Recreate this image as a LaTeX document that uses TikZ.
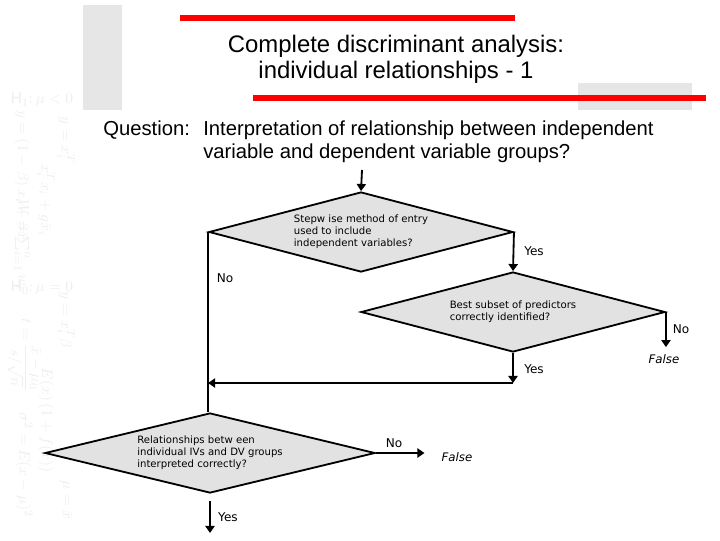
\documentclass[tikz,border=0pt]{standalone}
\usepackage{fontspec}
\setmainfont{Liberation Sans}
\newfontfamily\chartfont{DejaVu Sans}
\usetikzlibrary{positioning,arrows.meta,shapes.geometric}
\definecolor{CDRed}{HTML}{FF0000}
\definecolor{CDBar}{HTML}{E6E6E6}
\definecolor{CDFill}{HTML}{E2E2E2}
\definecolor{CDMath}{HTML}{EEEEEE}

\begin{document}
\begin{tikzpicture}[x=0.025cm,y=-0.025cm,
  decision/.style={draw=black, line width=1.3pt, fill=CDFill, shape=diamond, aspect=3.8,
    inner sep=0pt, align=left, font=\chartfont\fontsize{7.2}{8.5}\selectfont},
  flow/.style={line width=1.3pt, -{Triangle[length=5pt,width=6.5pt]}},
  link/.style={line width=1.3pt},
  lbl/.style={font=\chartfont\fontsize{8.6}{9}\selectfont, inner sep=0pt},
  outcome/.style={font=\chartfont\itshape\fontsize{8.4}{9}\selectfont, inner sep=0pt},
  deco/.style={text=CDMath, font=\fontsize{11}{11}\selectfont, inner sep=0pt}]
  \fill[white] (0,0) rectangle (720,540);
  \path[use as bounding box] (0,0) rectangle (720,540);

  % faint formulas down the left edge
  \node[deco] (h1) at (42,100) {$\mathrm{H}_1\colon\mu<0$};
  \node[deco] (h0) at (42,288) {$\mathrm{H}_0\colon\mu=0$};
  \node[deco, rotate=-90] (f1) at (22,175) {$y=(1-\beta)\,x_i+\beta\bar{x}$};
  \node[deco, rotate=-90] (f2) at (22,245) {$W=\sum_{i=1}^{n}w_i$};
  \node[deco, rotate=-90] (f3) at (24,355) {$t=\displaystyle\frac{\bar{x}-\mu_0}{s/\sqrt{n}}$};
  \node[deco, rotate=-90] (f4) at (24,465) {$\sigma^2=E(x-\mu)^2$};
  \node[deco, rotate=-90] (f5) at (46,200) {$x_i^{T}x_i+g\bar{x}_i$};
  \node[deco, rotate=-90] (f6) at (46,420) {$E(x)\,(1+f(x))$};
  \node[deco, rotate=-90] (f7) at (66,140) {$y=x_i^{T}$};
  \node[deco, rotate=-90] (f8) at (66,320) {$y=x_i^{T}\beta$};
  \node[deco, rotate=-90] (f9) at (66,500) {$\mu=\bar{x}$};

  % header bars
  \fill[CDBar] (83,5) rectangle (122,110);
  \fill[CDBar] (578,83) rectangle (692,110);
  \fill[CDRed] (180,15) rectangle (515,21);
  \fill[CDRed] (253,95) rectangle (706,101);

  \node[font=\fontsize{17}{20}\selectfont] (title1) at (396,46) {Complete discriminant analysis:};
  \node[font=\fontsize{17}{20}\selectfont] (title2) at (396,72) {individual relationships - 1};

  \node[anchor=west, inner sep=0pt, font=\fontsize{14.4}{16.3}\selectfont] (qlabel) at (103,130) {Question:};
  \node[anchor=north west, inner sep=0pt, align=left, font=\fontsize{14.4}{16.3}\selectfont] (qtext) at (203,121)
    {Interpretation of relationship between independent\\variable and dependent variable groups?};

  % decisions
  \node[decision, minimum width=7.6cm, minimum height=2cm] (stepwise) at (361,232)
    {Stepw ise method of entry\\used to include\\independent variables?};
  \node[decision, minimum width=7.6cm, minimum height=2cm] (subset) at (513,312)
    {Best subset of predictors\\correctly identified?};
  \node[decision, minimum width=8.25cm, minimum height=2cm] (interp) at (210,453)
    {Relationships betw een\\individual IVs and DV groups\\interpreted correctly?};

  \node[outcome] (false1) at (664,359) {False};
  \node[outcome] (false2) at (457,457) {False};

  \coordinate (start) at (362,170);
  \coordinate (join) at (513,383);
  \coordinate (finish) at (210,533);

  \draw[flow] (start) -- (stepwise.north);
  \draw[flow] (stepwise.east) -- (subset.north);
  \draw[link] (stepwise.west) -- (stepwise.west |- interp.north);
  \draw[flow] (subset.south) -- (join);
  \draw[flow] (join) -- (join -| stepwise.west);
  \draw[flow, shorten >=5pt] (subset.east) -- (subset.east |- false1.north);
  \draw[flow, shorten >=12pt] (interp.east) -- (interp.east -| false2.west);
  \draw[flow] ([yshift=-5pt]interp.south) -- (finish);

  \node[lbl] (yes1) at (534,251) {Yes};
  \node[lbl] (no1) at (225,278) {No};
  \node[lbl] (no2) at (681,329) {No};
  \node[lbl] (yes2) at (534,369) {Yes};
  \node[lbl] (no3) at (394,443) {No};
  \node[lbl] (yes3) at (228,517) {Yes};
\end{tikzpicture}
\end{document}
